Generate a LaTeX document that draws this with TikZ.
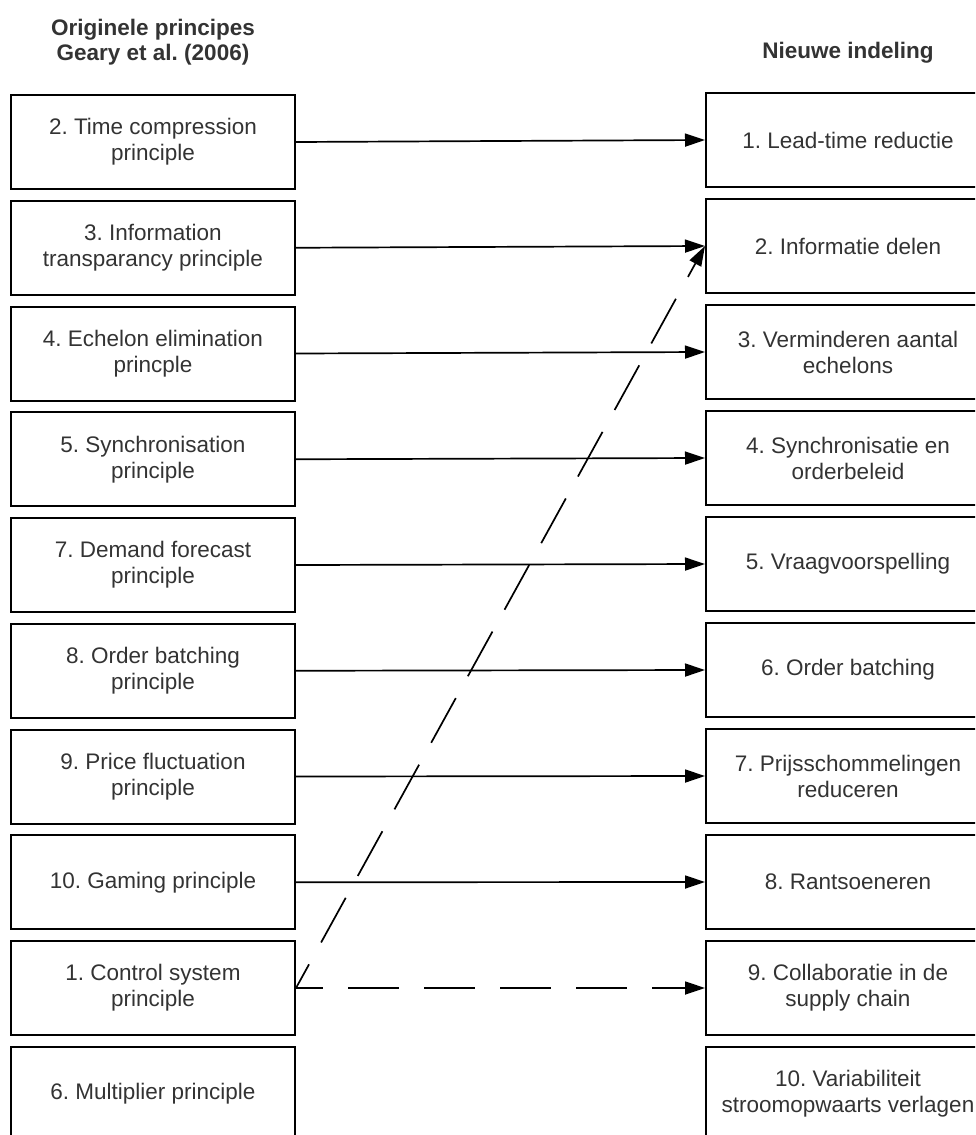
\documentclass[tikz,border=0pt]{standalone}
\usepackage{fontspec}
\setmainfont{Liberation Sans}
\usetikzlibrary{arrows.meta}
\definecolor{txt}{HTML}{333333}
\frenchspacing
\begin{document}
\begin{tikzpicture}[x=1pt,y=-1pt,
  box/.style={draw=black,line width=2pt,minimum width=284pt,minimum height=94pt,
    align=center,inner sep=2pt,text=txt,font=\fontsize{22.5}{26}\selectfont},
  head/.style={align=center,text=txt,font=\bfseries\fontsize{22.5}{25}\selectfont},
  link/.style={line width=1.7pt,-{Triangle[length=20pt,width=13pt]}},
  dlink/.style={link,dash pattern=on 51pt off 25pt,dash phase=24pt}]
\useasboundingbox (0,0) rectangle (975,1135);
\clip (0,0) rectangle (975,1135);

% column headings
\node[head] (hl) at (153,42) {Originele principes\\Geary et al. (2006)};
\node[head] (hr) at (848,53) {Nieuwe indeling};

% original principles (left column)
\node[box] (l2)  at (153,142.00) {2. Time compression\\principle};
\node[box] (l3)  at (153,247.75) {3. Information\\transparancy principle};
\node[box] (l4)  at (153,353.50) {4. Echelon elimination\\princple};
\node[box] (l5)  at (153,459.25) {5. Synchronisation\\principle};
\node[box] (l7)  at (153,565.00) {7. Demand forecast\\principle};
\node[box] (l8)  at (153,670.75) {8. Order batching\\principle};
\node[box] (l9)  at (153,776.50) {9. Price fluctuation\\principle};
\node[box] (l10) at (153,882.25) {10. Gaming principle};
\node[box] (l1)  at (153,988.00) {1. Control system\\principle};
\node[box] (l6)  at (153,1093.75) {6. Multiplier principle};

% new classification (right column)
\node[box] (r1)  at (848,140) {1. Lead-time reductie};
\node[box] (r2)  at (848,246) {2. Informatie delen};
\node[box] (r3)  at (848,352) {3. Verminderen aantal\\echelons};
\node[box] (r4)  at (848,458) {4. Synchronisatie en\\orderbeleid};
\node[box] (r5)  at (848,564) {5. Vraagvoorspelling};
\node[box] (r6)  at (848,670) {6. Order batching};
\node[box] (r7)  at (848,776) {7. Prijsschommelingen\\reduceren};
\node[box] (r8)  at (848,882) {8. Rantsoeneren};
\node[box] (r9)  at (848,988) {9. Collaboratie in de\\supply chain};
\node[box] (r10) at (848,1094) {10. Variabiliteit\\stroomopwaarts verlagen};

% mappings
\draw[link] (l2.east)  -- (r1.west);
\draw[link] (l3.east)  -- (r2.west);
\draw[link] (l4.east)  -- (r3.west);
\draw[link] (l5.east)  -- (r4.west);
\draw[link] (l7.east)  -- (r5.west);
\draw[link] (l8.east)  -- (r6.west);
\draw[link] (l9.east)  -- (r7.west);
\draw[link] (l10.east) -- (r8.west);
\draw[dlink] (l1.east) -- (r9.west);
\draw[dlink] (l1.east) -- (r2.west);
\end{tikzpicture}
\end{document}
